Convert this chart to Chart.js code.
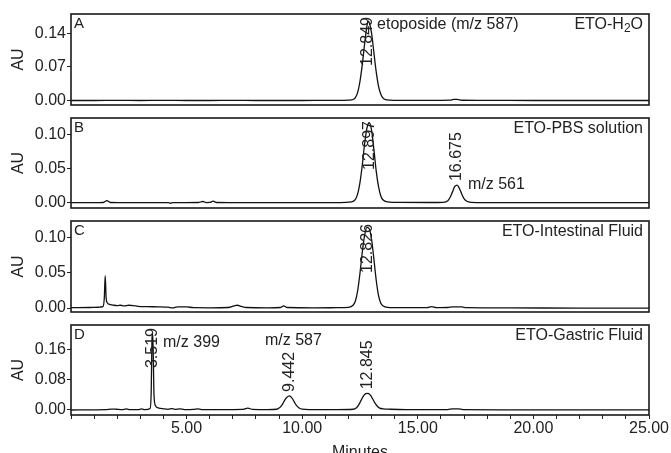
<!DOCTYPE html>
<html><head><meta charset="utf-8">
<script src="https://cdn.jsdelivr.net/npm/chart.js@4.4.0/dist/chart.umd.min.js"></script>
<style>
html,body{margin:0;padding:0;background:#fff;overflow:hidden;width:671px;height:453px;}
canvas{position:absolute;left:0;top:0;}
</style></head><body>
<canvas id="cA" width="671" height="470"></canvas>
<canvas id="cB" width="671" height="470"></canvas>
<canvas id="cC" width="671" height="470"></canvas>
<canvas id="cD" width="671" height="470"></canvas>
<script>
// ---- data (minutes, AU) ----
const traceA = [[0,0],[1,0],[2,0.0003],[3,0],[4,0.0002],[5,0],[6,0],[7,0.0002],[8,0],[9,0],[10,0],[11,0.0002],[11.8,0.0003],[12.0,0.0006],[12.2,0.002],[12.3,0.006],[12.4,0.017],[12.5,0.040],[12.6,0.075],[12.7,0.118],[12.8,0.155],[12.85,0.165],[12.9,0.162],[13.0,0.140],[13.1,0.100],[13.2,0.060],[13.3,0.030],[13.4,0.013],[13.5,0.005],[13.6,0.002],[13.8,0.0008],[14.2,0.0003],[15,0.0002],[16,0.0003],[16.4,0.0006],[16.55,0.0022],[16.7,0.0022],[16.9,0.0005],[18,0.0002],[20,0],[22,0],[24,0],[25,0]];
const traceB = [[0,0],[1,0],[1.4,0.0003],[1.55,0.003],[1.7,0.0003],[2.5,0],[3.5,0.0002],[4.2,0],[4.3,-0.0008],[4.4,0],[5.5,0.0003],[5.7,0.0018],[5.85,0.0002],[6.0,0.0004],[6.15,0.0022],[6.3,0.0003],[7.5,0],[9,0],[10.5,0.0002],[11.5,0.0002],[12.0,0.0008],[12.2,0.002],[12.3,0.005],[12.4,0.013],[12.5,0.030],[12.6,0.056],[12.7,0.087],[12.8,0.110],[12.9,0.118],[13.0,0.107],[13.1,0.079],[13.2,0.047],[13.3,0.024],[13.4,0.010],[13.5,0.004],[13.7,0.0012],[14.2,0.0004],[15.5,0.0003],[16.1,0.0006],[16.3,0.003],[16.4,0.008],[16.5,0.016],[16.6,0.024],[16.7,0.026],[16.8,0.021],[16.9,0.013],[17.0,0.006],[17.1,0.0025],[17.3,0.0006],[18,0.0002],[20,0],[22,0],[25,0]];
const traceC = [[0,0.0005],[0.8,0.0008],[1.2,0.0012],[1.38,0.002],[1.44,0.014],[1.48,0.046],[1.52,0.014],[1.58,0.007],[1.7,0.005],[1.85,0.004],[2.0,0.0035],[2.15,0.004],[2.3,0.003],[2.5,0.004],[2.7,0.0035],[2.9,0.0025],[3.3,0.002],[3.8,0.0018],[4.2,0.0012],[4.4,0.0002],[4.6,0.0018],[5.0,0.0018],[5.3,0.0005],[6.0,0.0004],[6.8,0.0008],[7.05,0.003],[7.2,0.004],[7.35,0.0025],[7.6,0.0008],[8.5,0.0004],[9.05,0.0008],[9.2,0.003],[9.35,0.0008],[10.5,0.0004],[11.5,0.0005],[12.0,0.001],[12.2,0.004],[12.3,0.010],[12.4,0.025],[12.5,0.050],[12.6,0.080],[12.7,0.104],[12.8,0.115],[12.9,0.113],[13.0,0.098],[13.1,0.070],[13.2,0.040],[13.3,0.018],[13.4,0.007],[13.5,0.003],[13.7,0.001],[14.2,0.0005],[15.4,0.0006],[15.6,0.002],[15.8,0.0006],[16.3,0.0008],[16.5,0.0018],[16.9,0.0018],[17.1,0.0005],[19,0.0002],[22,0],[25,0]];
const traceD = [[0,0],[1.0,0.0005],[1.5,0.0008],[1.75,0.0025],[1.95,0.002],[2.2,0.0008],[2.4,0.0028],[2.55,0.0008],[2.9,0.0008],[3.05,0.0028],[3.2,0.0008],[3.42,0.004],[3.47,0.05],[3.5,0.18],[3.52,0.205],[3.55,0.17],[3.59,0.04],[3.65,0.012],[3.8,0.005],[4.0,0.003],[4.2,0.0018],[4.35,0.0035],[4.5,0.0018],[4.7,0.003],[4.9,0.001],[5.3,0.0015],[5.5,0.0028],[5.7,0.001],[6.5,0.0008],[7.4,0.0015],[7.65,0.005],[7.85,0.0015],[8.5,0.001],[8.9,0.002],[9.0,0.005],[9.1,0.011],[9.2,0.021],[9.3,0.031],[9.44,0.037],[9.55,0.032],[9.65,0.022],[9.75,0.012],[9.85,0.006],[10.0,0.002],[10.3,0.001],[11.5,0.001],[12.2,0.002],[12.35,0.006],[12.45,0.014],[12.55,0.026],[12.65,0.037],[12.75,0.043],[12.85,0.044],[12.95,0.039],[13.05,0.029],[13.15,0.018],[13.25,0.010],[13.35,0.005],[13.5,0.003],[13.8,0.002],[14.5,0.001],[16.3,0.001],[16.5,0.003],[16.75,0.003],[16.95,0.001],[19,0.0005],[22,0.0003],[25,0.0003]];

const peaksA = [12.849];
const peaksB = [12.897, 16.675];
const peaksC = [12.826];
const peaksD = [3.519, 9.442, 12.845];

const yTicksA = [0, 0.07, 0.14];
const yTicksB = [0, 0.05, 0.10];
const yTicksC = [0, 0.05, 0.10];
const yTicksD = [0, 0.08, 0.16];
const xMajorTicks = [5, 10, 15, 20, 25];

const titleA = ['ETO-H', '2', 'O'];
const titleB = ['ETO-PBS solution'];
const titleC = ['ETO-Intestinal Fluid'];
const titleD = ['ETO-Gastric Fluid'];
const notesA = ['etoposide (m/z 587)'];
const notesB = ['m/z 561'];
const notesC = [];
const notesD = ['m/z 399', 'm/z 587'];

// ---- layout (positions of notes in axis units) ----
const H = 470;
const FONT = '"Liberation Sans", Arial, sans-serif';
const INK = '#222';
const panels = [
  {id:'cA', trace:traceA, peaks:peaksA, yTicks:yTicksA, title:titleA, notes:notesA, notePos:[[13.24,0.157]], letter:'A', top:14, bottom:105, min:-0.0094, max:0.18, showX:false},
  {id:'cB', trace:traceB, peaks:peaksB, yTicks:yTicksB, title:titleB, notes:notesB, notePos:[[17.17,0.026]], letter:'B', top:118, bottom:208, min:-0.0078, max:0.125, showX:false},
  {id:'cC', trace:traceC, peaks:peaksC, yTicks:yTicksC, title:titleC, notes:notesC, notePos:[], letter:'C', top:221, bottom:312, min:-0.0056, max:0.124, showX:false},
  {id:'cD', trace:traceD, peaks:peaksD, yTicks:yTicksD, title:titleD, notes:notesD, notePos:[[3.98,0.177],[8.39,0.182]], letter:'D', top:325, bottom:415, min:-0.0132, max:0.224, showX:true}
];

Chart.defaults.font.family = FONT;
Chart.defaults.font.size = 16;
Chart.defaults.color = INK;

function makeChart(p) {
  const deco = {
    id: 'deco' + p.letter,
    afterDraw(chart) {
      const ctx = chart.ctx, a = chart.chartArea;
      const xs = chart.scales.x, ys = chart.scales.y;
      ctx.save();
      ctx.strokeStyle = '#1a1a1a'; ctx.lineWidth = 1.6;
      ctx.strokeRect(a.left, a.top, a.right - a.left, a.bottom - a.top);
      ctx.fillStyle = INK;
      ctx.font = '15px ' + FONT; ctx.textAlign = 'left'; ctx.textBaseline = 'middle';
      ctx.fillText(p.letter, a.left + 3, a.top + 10);
      const big = '16px ' + FONT, small = '12px ' + FONT;
      const parts = p.title.map((s, i) => ({s, sub: i === 1, f: i === 1 ? small : big}));
      let total = 0;
      parts.forEach(q => { ctx.font = q.f; q.w = ctx.measureText(q.s).width; total += q.w; });
      let x = a.right - 6 - total;
      parts.forEach(q => { ctx.font = q.f; ctx.fillText(q.s, x, a.top + 11 + (q.sub ? 4 : 0)); x += q.w; });
      ctx.font = '16px ' + FONT;
      p.notes.forEach((s, i) => {
        const [t, v] = p.notePos[i];
        ctx.fillText(s, xs.getPixelForValue(t), ys.getPixelForValue(v));
      });
      p.peaks.forEach(t => {
        let apex = 0;
        p.trace.forEach(([tt, v]) => { if (Math.abs(tt - t) < 0.2 && v > apex) apex = v; });
        const txt = t.toFixed(3);
        const w = ctx.measureText(txt).width;
        let start = ys.getPixelForValue(apex) - 4;
        if (start - w < a.top + 3) start = a.top + 3 + w;
        ctx.save();
        ctx.translate(xs.getPixelForValue(t), start);
        ctx.rotate(-Math.PI / 2);
        ctx.textAlign = 'left'; ctx.textBaseline = 'middle';
        ctx.fillText(txt, 0, 0);
        ctx.restore();
      });
      ctx.restore();
    }
  };
  return new Chart(document.getElementById(p.id), {
    type: 'line',
    data: { datasets: [{
      data: p.trace.map(([t, v]) => ({x: t, y: v})),
      borderColor: '#111', borderWidth: 1.3, pointRadius: 0, fill: false,
      cubicInterpolationMode: 'monotone'
    }]},
    options: {
      responsive: false, animation: false, events: [],
      layout: { padding: { left: 0, right: 22, top: p.top, bottom: p.showX ? 0 : H - p.bottom } },
      plugins: { legend: {display: false}, tooltip: {enabled: false} },
      scales: {
        x: {
          type: 'linear', min: 0, max: 25, display: p.showX,
          afterFit: s => { s.height = p.showX ? H - p.bottom : 0; },
          grid: { display: true, drawOnChartArea: false, drawTicks: true, tickLength: 4, color: INK, lineWidth: 1 },
          border: { display: false },
          ticks: { stepSize: 1, autoSkip: false, maxRotation: 0, padding: 0, color: INK,
            callback: v => xMajorTicks.some(m => Math.abs(m - v) < 1e-6) ? Number(v).toFixed(2) : '' },
          title: { display: true, text: 'Minutes', color: INK, padding: {top: 0, bottom: 8} }
        },
        y: {
          min: p.min, max: p.max,
          afterFit: s => { s.width = 71; },
          afterBuildTicks: s => { s.ticks = p.yTicks.map(v => ({value: v})); },
          grid: { display: true, drawOnChartArea: false, drawTicks: true, tickLength: 4, color: INK, lineWidth: 1 },
          border: { display: false },
          ticks: { padding: 1, color: INK, callback: v => Number(v).toFixed(2) },
          title: { display: true, text: 'AU', color: INK, padding: {top: 9, bottom: 0} }
        }
      }
    },
    plugins: [deco]
  });
}
panels.forEach(makeChart);
</script>
</body></html>
